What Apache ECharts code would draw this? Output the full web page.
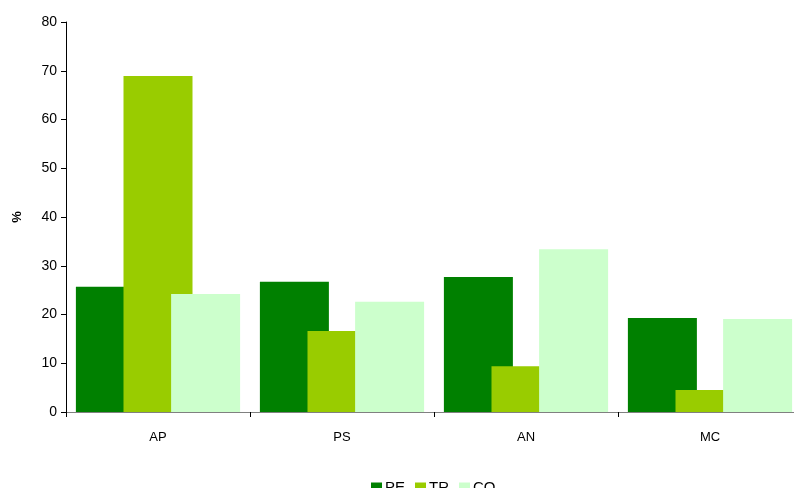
<!DOCTYPE html>
<html>
<head>
<meta charset="utf-8">
<script src="https://cdn.jsdelivr.net/npm/echarts@6/dist/echarts.min.js"></script>
<style>
html, body { margin: 0; padding: 0; background: #fff; overflow: hidden; }
#chart { width: 802px; height: 488px; }
</style>
</head>
<body>
<div id="chart"></div>
<script>
// 数据
var categories = ['AP', 'PS', 'AN', 'MC'];
var seriesNames = ['PE', 'TR', 'CO'];
var pe = [25.7, 26.7, 27.7, 19.3];
var tr = [68.9, 16.6, 9.4, 4.5];
var co = [24.2, 22.6, 33.4, 19.1];
var yTicks = [0, 10, 20, 30, 40, 50, 60, 70, 80];

var colors = ['#008000', '#99cc00', '#ccffcc'];
var values = [pe, tr, co];

var series = [];
for (var i = 0; i < seriesNames.length; i++) {
	series.push({
		name: seriesNames[i],
		type: 'bar',
		data: values[i],
		barWidth: 69,
		barGap: '-31%',
		itemStyle: { color: colors[i] }
	});
}

var myChart = echarts.init(document.getElementById('chart'));
myChart.setOption({
	animation: false,
	textStyle: { fontFamily: 'Liberation Sans, Arial, sans-serif' },
	grid: {
		left: 66,
		top: 22,
		right: 0,
		bottom: 76,
		containLabel: false
	},
	legend: {
		data: seriesNames,
		top: 475,
		left: 366,
		itemWidth: 11,
		itemHeight: 10,
		itemGap: 10,
		icon: 'rect',
		textStyle: { fontSize: 15, color: '#000', padding: [0, 0, 0, -2] }
	},
	xAxis: {
		type: 'category',
		data: categories,
		axisLine: { lineStyle: { color: '#808080', width: 1 } },
		axisTick: { show: true, length: 5, lineStyle: { color: '#000' } },
		axisLabel: { color: '#000', fontSize: 13, margin: 19 }
	},
	yAxis: {
		type: 'value',
		min: yTicks[0],
		max: yTicks[yTicks.length - 1],
		interval: 10,
		name: '%',
		nameLocation: 'middle',
		nameGap: 42,
		nameRotate: 90,
		nameTextStyle: { color: '#000', fontSize: 13, fontWeight: 'bold' },
		axisLine: { show: true, lineStyle: { color: '#000', width: 1 } },
		axisTick: { show: true, length: 5, lineStyle: { color: '#000' } },
		axisLabel: { color: '#000', fontSize: 14, margin: 9 },
		splitLine: { show: false }
	},
	series: series
});
</script>
</body>
</html>
